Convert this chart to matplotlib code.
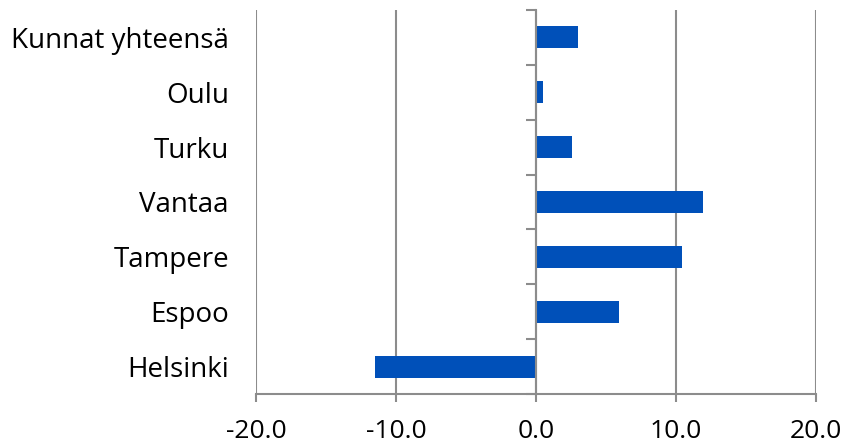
import numpy as np
import matplotlib.pyplot as plt
import matplotlib.ticker as mticker

# municipalities, bottom to top
areas = ['Helsinki', 'Espoo', 'Tampere', 'Vantaa', 'Turku', 'Oulu', 'Kunnat yhteensä']
change = [-11.5, 5.9, 10.4, 11.9, 2.6, 0.5, 3.0]
xticks = [-20, -10, 0, 10, 20]

BAR = '#0050B9'
GREY = '#8C8C8C'

plt.rcParams['font.family'] = ['Open Sans', 'DejaVu Sans']

fig = plt.figure(figsize=(8.48, 4.47), dpi=100, facecolor='white')
ax = fig.add_axes([0.3019, 0.1186, 0.6604, 0.859])

y = np.arange(len(areas))
ax.barh(y, change, height=0.4, color=BAR, zorder=3)

ax.set_xlim(-20, 20)
ax.set_ylim(-0.5, len(areas) - 0.5)
ax.set_xticks(xticks)
ax.xaxis.set_major_formatter(mticker.FormatStrFormatter('%.1f'))
ax.grid(axis='x', color=GREY, linewidth=1.5, zorder=1)
ax.tick_params(axis='x', length=6, width=1.5, color=GREY, labelsize=19, pad=12)

# category names sit at the left edge, boundary ticks hang off the zero line
ax.set_yticks(y)
ax.set_yticklabels(areas)
ax.set_yticks(np.arange(len(areas) + 1) - 0.5, minor=True)
ax.tick_params(axis='y', which='major', left=False, right=False,
               labelsize=20, pad=16)
ax.tick_params(axis='y', which='minor', left=False, right=True,
               direction='in', length=7, width=1.5, color=GREY)

ax.spines['right'].set_position(('data', 0))
ax.spines['right'].set_color(GREY)
ax.spines['right'].set_linewidth(1.5)
ax.spines['right'].set_zorder(4)
ax.spines['bottom'].set_color(GREY)
ax.spines['bottom'].set_linewidth(1.5)
ax.spines['left'].set_visible(False)
ax.spines['top'].set_visible(False)

fig.savefig('out.png', dpi=100, facecolor='white')
